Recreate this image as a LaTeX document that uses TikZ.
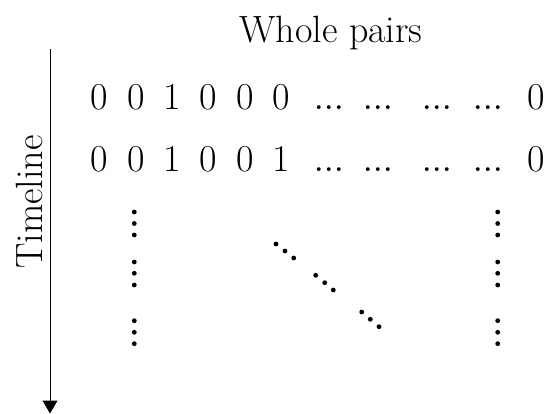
\documentclass[tikz,border=0pt]{standalone}
\usetikzlibrary{arrows.meta}
\newcommand{\bigellip}{{\fontsize{46}{48}\selectfont.\kern-1.5pt.\kern-1.5pt.}}
\begin{document}
\begin{tikzpicture}[x=1pt,y=-1pt,
  txt/.style={font=\fontsize{38}{40}\selectfont, inner sep=0pt, anchor=base},
  dotmark/.style={fill=black}]
\useasboundingbox (0,0) rectangle (549,414);
% title and axis label
\node[txt] (title) at (331,42.5) {Whole pairs};
\node[txt, rotate=90] (timeline) at (42,202) {Timeline};
% timeline arrow
\coordinate (tstart) at (50,49);
\coordinate (tend) at (50,413.5);
\draw[line width=1pt, -{Triangle[length=13pt,width=15pt]}] (tstart) -- (tend);
% row 1
\foreach \x/\v [count=\i] in {99.7/0,136.3/0,172.7/1,208.3/0,245/0,281/0}
  {\node[txt] (ra\i) at (\x,110) {\v};}
\foreach \x [count=\i] in {329,378.5,437.5,488.5}
  {\node[txt] (rae\i) at (\x,110) {\bigellip};}
\node[txt] (ralast) at (535.8,110) {0};
% row 2
\foreach \x/\v [count=\i] in {99.7/0,136.3/0,172.7/1,208.3/0,245/0,281/1}
  {\node[txt] (rb\i) at (\x,171.5) {\v};}
\foreach \x [count=\i] in {329,378.5,437.5,488.5}
  {\node[txt] (rbe\i) at (\x,171.5) {\bigellip};}
\node[txt] (rblast) at (535.8,171.5) {0};
% vertical dots
\foreach \y in {212,223.5,235,262,273.3,285,320.7,332.3,343.7}{
  \fill[dotmark] (134.3,\y) circle[radius=2.4pt];
  \fill[dotmark] (497.7,\y) circle[radius=2.4pt];
}
% diagonal dots
\foreach \x/\y in {276/244,285/251,293.7/258,315.7/275.3,324.7/282.7,333.3/290,361.7/312,370.3/319.3,379/326.7}
  {\fill[dotmark] (\x,\y) circle[radius=2.4pt];}
\end{tikzpicture}
\end{document}
